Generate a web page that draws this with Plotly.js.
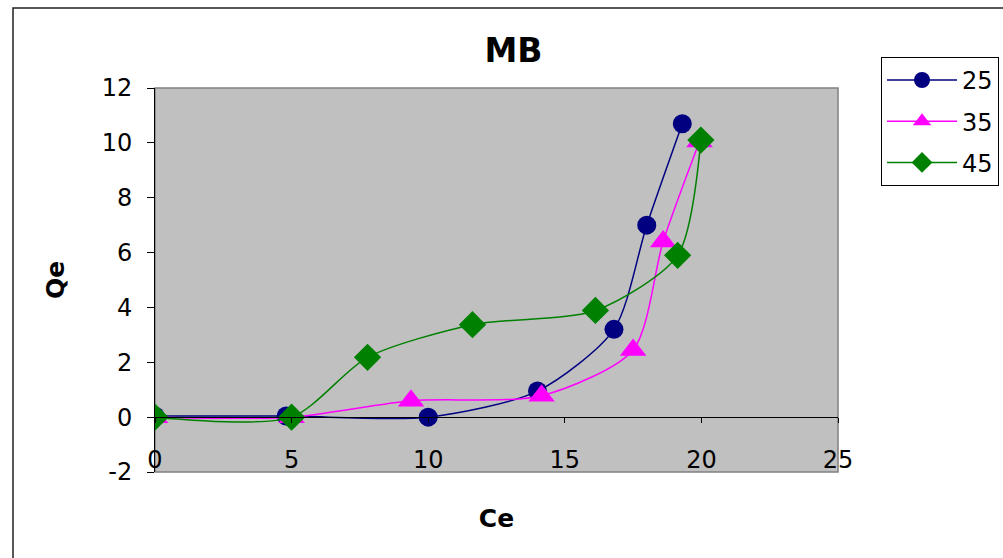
<!DOCTYPE html>
<html>
<head>
<meta charset="utf-8">
<script src="https://cdn.plot.ly/plotly-3.0.1.min.js"></script>
<style>html,body{margin:0;padding:0;background:#fff;}#chart{width:1003px;height:558px;}</style>
</head>
<body>
<div id="chart"></div>
<script>
var seriesNames = ["25", "35", "45"];
var ce25 = [0, 4.8, 10.0, 14.0, 16.8, 18.0, 19.3];
var qe25 = [0.04, 0.04, 0.0, 0.95, 3.2, 7.0, 10.7];
var ce35 = [0, 5.0, 9.37, 14.15, 17.5, 18.6, 19.93];
var qe35 = [0.0, 0.0, 0.6, 0.78, 2.45, 6.4, 10.05];
var ce45 = [0, 5.0, 7.78, 11.62, 16.12, 19.13, 19.98];
var qe45 = [0.0, 0.0, 2.18, 3.37, 3.89, 5.9, 10.1];
var xTicks = [0, 5, 10, 15, 20, 25];
var yTicks = [-2, 0, 2, 4, 6, 8, 10, 12];

var FONT = "DejaVu Sans, Liberation Sans, Arial, sans-serif";

var traces = [
  {x: ce25, y: qe25, name: seriesNames[0], legendgroup: "g25", mode: "lines+markers",
   line: {color: "#000080", width: 1.5, shape: "spline", smoothing: 0.75},
   marker: {symbol: "circle", size: 19, color: "#000080"}},
  {x: ce35, y: qe35, name: seriesNames[1], legendgroup: "g35", mode: "lines+markers",
   line: {color: "#FF00FF", width: 1.5, shape: "spline", smoothing: 0.75},
   marker: {symbol: "triangle-up", size: 23, color: "#FF00FF"}},
  {x: ce45, y: qe45, name: seriesNames[2], legendgroup: "g45", mode: "lines+markers",
   line: {color: "#008000", width: 1.5, shape: "spline", smoothing: 0.75},
   marker: {symbol: "diamond", size: 21, color: "#008000"}}
];

var layout = {
  width: 1003, height: 558,
  margin: {l: 155, r: 165, t: 88, b: 86, autoexpand: false},
  paper_bgcolor: "#ffffff",
  plot_bgcolor: "#C0C0C0",
  font: {family: FONT, color: "#000"},
  title: {text: "<b>MB</b>", font: {family: FONT, size: 33, color: "#000"},
          xref: "container", x: 0.512, yref: "container", y: 0.91, yanchor: "middle"},
  xaxis: {
    range: [0, 25], tickvals: xTicks, ticktext: xTicks.map(String),
    anchor: "free", position: 2 / 14,
    showgrid: false, zeroline: false,
    showline: true, linecolor: "#000", linewidth: 1,
    ticks: "outside", ticklen: 5, tickcolor: "#000",
    ticklabelstandoff: 16,
    tickfont: {family: FONT, size: 24, color: "#000"},
    title: {text: "<b>Ce</b>", font: {family: FONT, size: 25, color: "#000"}, standoff: 36}
  },
  yaxis: {
    range: [-2, 12], tickvals: yTicks, ticktext: yTicks.map(String),
    showgrid: false, zeroline: false,
    showline: true, linecolor: "#000", linewidth: 1,
    ticks: "outside", ticklen: 7, tickcolor: "#000",
    ticklabelstandoff: 10,
    tickfont: {family: FONT, size: 24, color: "#000"},
    title: {text: "<b>Qe</b>", font: {family: FONT, size: 25, color: "#000"}, standoff: 29}
  },
  legend: {
    x: 1.063, xanchor: "left", y: 1.081, yanchor: "top",
    bordercolor: "#000", borderwidth: 1, bgcolor: "#fff",
    font: {family: FONT, size: 24, color: "#000"},
    itemwidth: 70, tracegroupgap: 7
  },
  showlegend: true,
  shapes: [
    {type: "rect", xref: "paper", yref: "paper", x0: 0, x1: 1, y0: 0, y1: 1,
     line: {color: "#808080", width: 1.5}, layer: "below"},
    {type: "rect", xref: "paper", yref: "paper", x0: -0.2079, x1: 1.4, y0: -0.4, y1: 1.2083,
     line: {color: "#222", width: 1.5}, layer: "below"}
  ]
};

Plotly.newPlot("chart", traces, layout, {displayModeBar: false, staticPlot: true});
</script>
</body>
</html>
